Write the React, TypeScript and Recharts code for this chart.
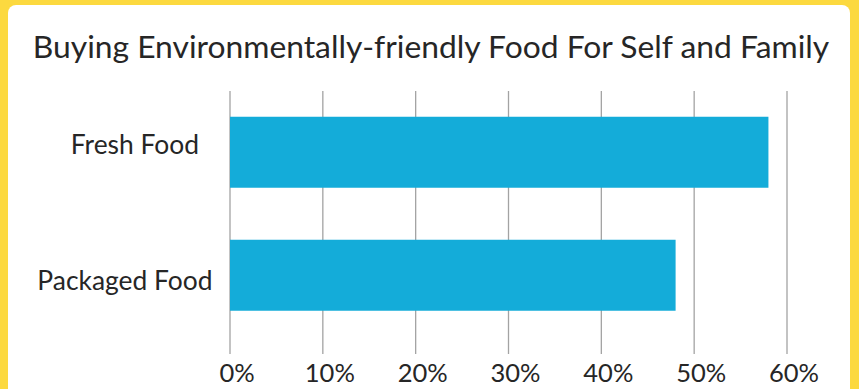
import React from "react";
import { BarChart, Bar, XAxis, YAxis, CartesianGrid } from "recharts";

const categories = ["Fresh Food", "Packaged Food"];
const shares = [58, 48];
const xTicks = [0, 10, 20, 30, 40, 50, 60];

const data = categories.map((name, i) => ({ name, share: shares[i] }));

const FONT = "Lato, 'Open Sans', sans-serif";
const TEXT = "#262626";

// the labels in the original are not quite aligned, nudge each one
const labelNudge: Record<string, { dx: number; dy: number }> = {
  "Fresh Food": { dx: -31, dy: 1 },
  "Packaged Food": { dx: -17.5, dy: 14 },
};

const CategoryTick = (props: any) => {
  const { x, y, payload } = props;
  const n = labelNudge[payload.value] || { dx: -24, dy: 8 };
  return (
    <text
      x={x + n.dx}
      y={y + n.dy}
      textAnchor="end"
      fontFamily={FONT}
      fontSize={26.4}
      fill={TEXT}
    >
      {payload.value}
    </text>
  );
};

export default function App() {
  return (
    <div
      style={{
        position: "absolute",
        left: 0,
        top: 0,
        width: 859,
        height: 389,
        overflow: "hidden",
        background: "#fcd93f",
      }}
    >
      <div
        style={{
          position: "absolute",
          left: 8,
          top: 5,
          width: 842,
          height: 420,
          borderRadius: 8,
          background: "#ffffff",
        }}
      />
      <div
        style={{
          position: "absolute",
          left: 0,
          top: 28,
          width: 862,
          textAlign: "center",
          fontFamily: FONT,
          fontSize: 31.8,
          lineHeight: "37px",
          color: TEXT,
        }}
      >
        Buying Environmentally-friendly Food For Self and Family
      </div>
      <div style={{ position: "absolute", left: 0, top: 0 }}>
        <BarChart
          width={859}
          height={389}
          data={data}
          layout="vertical"
          margin={{ top: 91, right: 72, left: 0, bottom: 0 }}
          barCategoryGap="21%"
        >
          <CartesianGrid horizontal={false} stroke="#a3a3a3" strokeWidth={1.3} />
          <XAxis
            type="number"
            domain={[0, 60]}
            ticks={xTicks}
            interval={0}
            tickFormatter={(v: number) => `${v}%`}
            axisLine={false}
            tickLine={{ stroke: "#a3a3a3", strokeWidth: 1.3 }}
            tickSize={17}
            tickMargin={10}
            height={52}
            tick={{ fill: TEXT, fontSize: 25.5, fontFamily: FONT, dx: 7 }}
          />
          <YAxis
            type="category"
            dataKey="name"
            width={230}
            axisLine={false}
            tickLine={false}
            tickSize={0}
            tickMargin={0}
            tick={<CategoryTick />}
          />
          <Bar dataKey="share" fill="#14acd9" isAnimationActive={false} />
        </BarChart>
      </div>
    </div>
  );
}
